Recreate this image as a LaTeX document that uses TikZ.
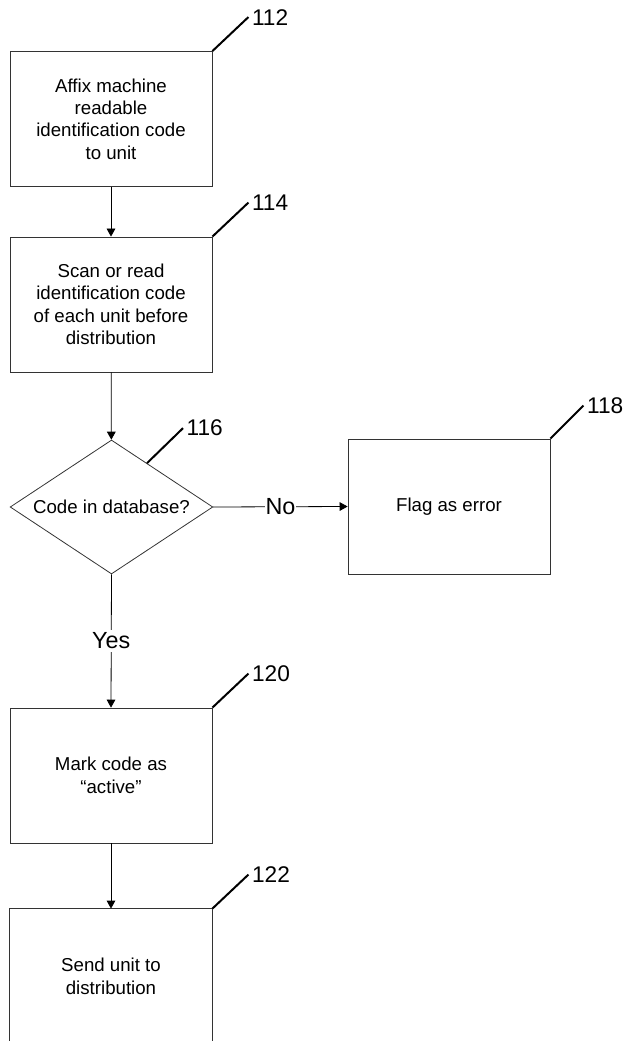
\documentclass[tikz,border=0pt]{standalone}
\usepackage{fontspec}
\setmainfont{Liberation Sans}
\usetikzlibrary{arrows.meta,shapes.geometric}
\begin{document}
\begin{tikzpicture}[x=0.75pt,y=-0.75pt,>={Triangle[length=6pt,width=6.5pt]},
	box/.style={draw=black!80,line width=0.6pt,minimum width=151.5pt,minimum height=101.25pt,inner sep=0pt,align=center,font=\fontsize{14}{16.8}\selectfont},
	tag/.style={anchor=west,inner sep=2pt,font=\fontsize{17}{19}\selectfont},
	lead/.style={line width=1.5pt},
	link/.style={->,line width=0.6pt}]
	\useasboundingbox (0,0) rectangle (632,1041);
	\node[box] (b112) at (111,119) {Affix machine\\readable\\identification code\\to unit};
	\node[box] (b114) at (111,304.5) {Scan or read\\identification code\\of each unit before\\distribution};
	\node[diamond,draw=black!80,line width=0.6pt,aspect=1.5,inner sep=0pt,minimum width=152pt,minimum height=100.5pt,font=\fontsize{14}{16.8}\selectfont] (d116) at (111.5,507) {Code in database?};
	\node[box] (b118) at (449,506.5) {Flag as error};
	\node[box] (b120) at (111,775.5) {Mark code as\\``active''};
	\node[box,draw=none] (b122) at (111,976.5) {Send unit to\\distribution};
	\draw[black!80,line width=0.6pt] (b122.south west)--(b122.north west)--(b122.north east)--(b122.south east);
	\draw[link] (b112)--(b114);
	\draw[link] (b114)--(d116);
	\draw[link] (d116.east)--node[fill=white,inner sep=0.5pt,font=\fontsize{17.5}{19}\selectfont]{No}(b118.west);
	\draw[link] (d116.south)--node[fill=white,inner sep=2pt,font=\fontsize{17.5}{19}\selectfont]{Yes}(b120.north);
	\draw[link] (b120)--(b122.north);
	% reference numerals
	\foreach \b in {112,114,120,122}
	{
		\draw[lead] (b\b.north east)--++(36,-34) node[tag] (n\b){\b};
	}
	\draw[lead] (d116.51)--++(36,-35) node[tag] (n116){116};
	\draw[lead] (b118.north east)--++(33,-33) node[tag] (n118){118};
\end{tikzpicture}
\end{document}
